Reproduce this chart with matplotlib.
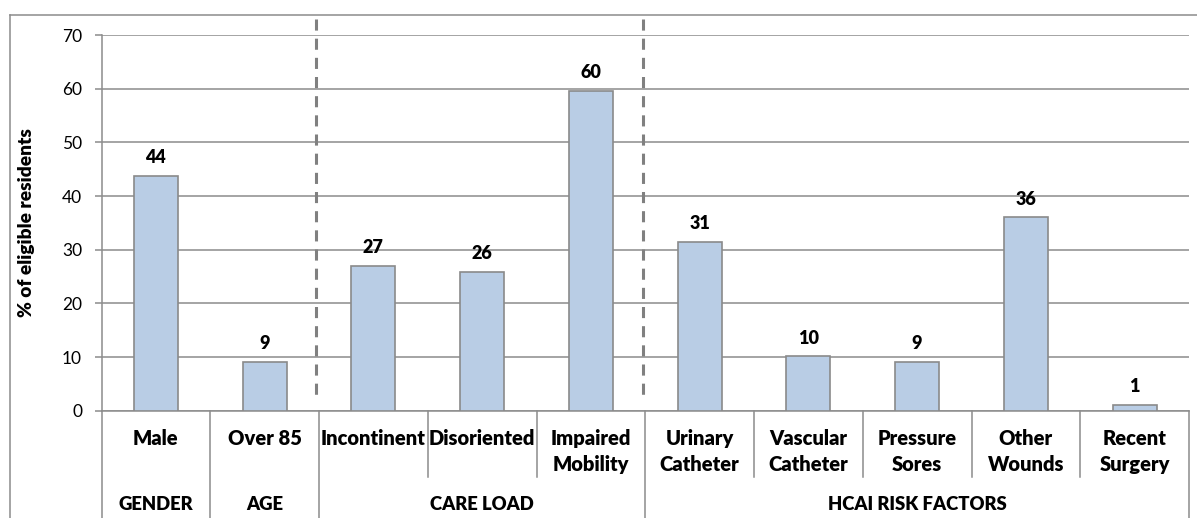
import matplotlib
matplotlib.use("Agg")
import matplotlib.pyplot as plt
from matplotlib import font_manager
from matplotlib.font_manager import FontProperties
from matplotlib.lines import Line2D

plt.rcParams['font.family'] = ['Lato', 'DejaVu Sans']
plt.rcParams['lines.scale_dashes'] = False

######data######
categories = ['Male', 'Over 85', 'Incontinent', 'Disoriented', 'Impaired\nMobility',
              'Urinary\nCatheter', 'Vascular\nCatheter', 'Pressure\nSores', 'Other\nWounds',
              'Recent\nSurgery']
values = [43.8, 9.1, 27.0, 25.9, 59.6, 31.4, 10.1, 9.1, 36.0, 1.1]
groups = ['GENDER', 'AGE', 'CARE LOAD', 'HCAI RISK FACTORS']
group_sizes = [1, 1, 3, 5]
yticks = [0, 10, 20, 30, 40, 50, 60, 70]

######heavy Lato file, looks closer to the bold labels of the reference######
heavy = [f.fname for f in font_manager.fontManager.ttflist
         if f.fname.endswith(('Lato-Heavy.ttf', 'Lato-ExtraBold.ttf'))]
def bold(size):
    if heavy:
        return FontProperties(fname=heavy[0], size=size)
    return FontProperties(family='Lato', weight='heavy', size=size)

W, H = 1197, 518
grid_c = '#8c8c8c'
fig = plt.figure(figsize=(W / 100, H / 100), dpi=100)

######axes placed in pixels######
x0, x1 = 101.5, 1189
y_top, y_zero = 35, 410.7
ax = fig.add_axes([x0 / W, 1 - y_zero / H, (x1 - x0) / W, (y_zero - y_top) / H])

def ypix(p):
    # pixel row -> axes y coordinate
    return (y_zero - p) / (y_zero - y_top)

xs = list(range(len(categories)))
ax.bar(xs, values, width=0.405, color='#b9cde5', edgecolor='#8a8a8a', linewidth=1.2, zorder=3)
for x, v in zip(xs, values):
    ax.annotate(f'{v:.0f}', (x, v), xytext=(0, 7), textcoords='offset points',
                ha='center', va='bottom', fontproperties=bold(13))

ax.set_xlim(-0.5, len(categories) - 0.5)
ax.set_ylim(0, 70)
ax.set_yticks(yticks)
ax.set_xticks([])
ax.yaxis.grid(True, color=grid_c, linewidth=1.1, zorder=0)
ax.set_axisbelow(True)
for s in ['top', 'right', 'bottom']:
    ax.spines[s].set_visible(False)
ax.spines['left'].set_color(grid_c)
ax.spines['left'].set_linewidth(1.1)
ax.tick_params(axis='y', length=5, width=1.1, color=grid_c, pad=9, labelsize=12.5)
ax.set_ylabel('% of eligible residents', fontproperties=bold(13.8))
ax.yaxis.set_label_coords(-0.061, 0.5)

######category table below the axis######
tr = ax.get_xaxis_transform()
ax.plot([-0.5, len(categories) - 0.5], [0, 0], color=grid_c, lw=1.1, transform=tr, clip_on=False)
bounds = [-0.5]
for g in group_sizes:
    bounds.append(bounds[-1] + g)
for i in range(len(categories) + 1):
    b = i - 0.5
    bottom = ypix(518) if b in bounds else ypix(477)
    ax.plot([b, b], [0, bottom], color=grid_c, lw=1.1, transform=tr, clip_on=False)

for x, c in zip(xs, categories):
    ax.text(x, ypix(429), c, transform=tr, ha='center', va='top',
            fontproperties=bold(14.5), linespacing=1.45)
for g, a, b in zip(groups, bounds[:-1], bounds[1:]):
    ax.text((a + b) / 2, ypix(505), g, transform=tr, ha='center', va='center',
            fontproperties=bold(13.3))

######dashed separators between groups######
for b in [1.475, 4.475]:
    ax.plot([b, b], [ypix(19), ypix(401)], color='#808080', lw=2.2, transform=tr,
            clip_on=False, dashes=(8, 5.8), zorder=4)

######outer frame######
fig.add_artist(Line2D([10 / W, 1], [1 - 15 / H, 1 - 15 / H], color=grid_c, lw=1.1))
fig.add_artist(Line2D([10 / W, 10 / W], [1 - 15 / H, 0], color=grid_c, lw=1.1))

fig.savefig('out.png', dpi=100)
